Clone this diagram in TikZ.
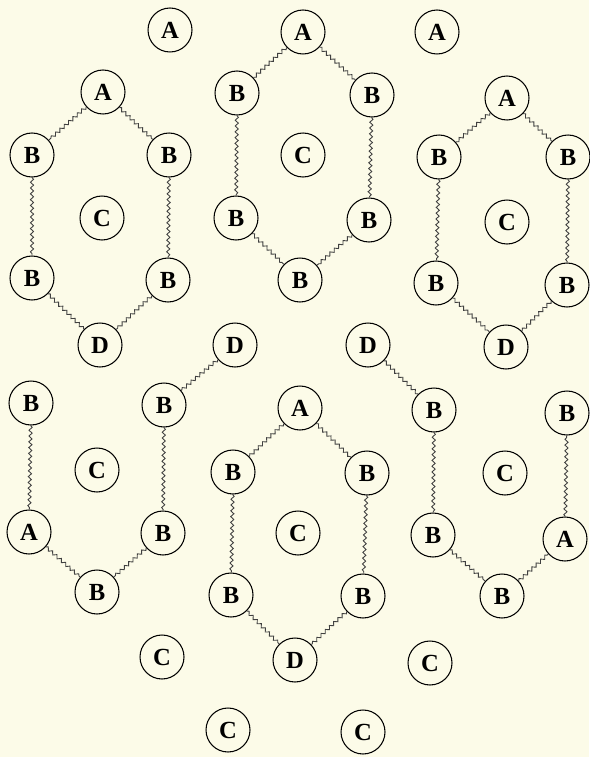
\documentclass[tikz,border=0pt]{standalone}
\usepackage{fontspec}
\setmainfont{Liberation Serif}
\usetikzlibrary{decorations.pathmorphing}
\usepackage{xcolor}
\definecolor{paper}{RGB}{252,251,232}

\begin{document}
\begin{tikzpicture}[x=.02cm, y=-.02cm,
  atom/.style={circle, draw=black, line width=.6pt, minimum size=.88cm, inner sep=0pt, font=\fontsize{14}{16}\selectfont\bfseries},
  bond/.style={draw=black!75, line width=.5pt, decorate, decoration={snake, amplitude=.9pt, segment length=3.3pt}}]
\fill[paper] (0,0) rectangle (589,757);
\useasboundingbox (0,0) rectangle (589,757);
% loose atoms
\foreach \n/\x/\y/\t in {a1/170/30/A, a2/303/32/A, a3/437/32/A, d2/235/345/D, d3/368/345/D,
  c1/162/657/C, c2/430/663/C, c3/228/730/C, c4/363/732/C}
  \node[atom] (\n) at (\x,\y) {\t};
% upper rings
\foreach \n/\x/\y/\t in {h1a/103/92/A, h1b1/32/155/B, h1b2/169/155/B, h1c/102/218/C, h1b3/32/278/B, h1b4/168/280/B, h1d/100/345/D,
  h2b1/237/93/B, h2b2/372/95/B, h2c/303/155/C, h2b3/236/218/B, h2b4/369/220/B, h2b5/300/280/B,
  h3a/507/98/A, h3b1/439/157/B, h3b2/568/157/B, h3c/507/222/C, h3b3/436/283/B, h3b4/567/285/B, h3d/506/347/D}
  \node[atom] (\n) at (\x,\y) {\t};
% lower rings
\foreach \n/\x/\y/\t in {g1b1/31/403/B, g1b2/164/405/B, g1c/97/470/C, g1a/29/532/A, g1b3/163/533/B, g1b4/97/592/B,
  h4a/300/408/A, h4b1/233/472/B, h4b2/367/473/B, h4c/298/533/C, h4b3/231/595/B, h4b4/363/596/B, h4d/295/660/D,
  g2b1/434/410/B, g2b2/567/413/B, g2c/505/473/C, g2b3/433/535/B, g2a/565/539/A, g2b4/502/596/B}
  \node[atom] (\n) at (\x,\y) {\t};
% wavy bonds
\foreach \p/\q in {h1a/h1b1, h1a/h1b2, h1b1/h1b3, h1b2/h1b4, h1b3/h1d, h1b4/h1d,
  a2/h2b1, a2/h2b2, h2b1/h2b3, h2b2/h2b4, h2b3/h2b5, h2b4/h2b5,
  h3a/h3b1, h3a/h3b2, h3b1/h3b3, h3b2/h3b4, h3b3/h3d, h3b4/h3d,
  d2/g1b2, g1b1/g1a, g1b2/g1b3, g1a/g1b4, g1b3/g1b4,
  h4a/h4b1, h4a/h4b2, h4b1/h4b3, h4b2/h4b4, h4b3/h4d, h4b4/h4d,
  d3/g2b1, g2b1/g2b3, g2b3/g2b4, g2b4/g2a, g2a/g2b2}
  \draw[bond] (\p) -- (\q);
\end{tikzpicture}
\end{document}
